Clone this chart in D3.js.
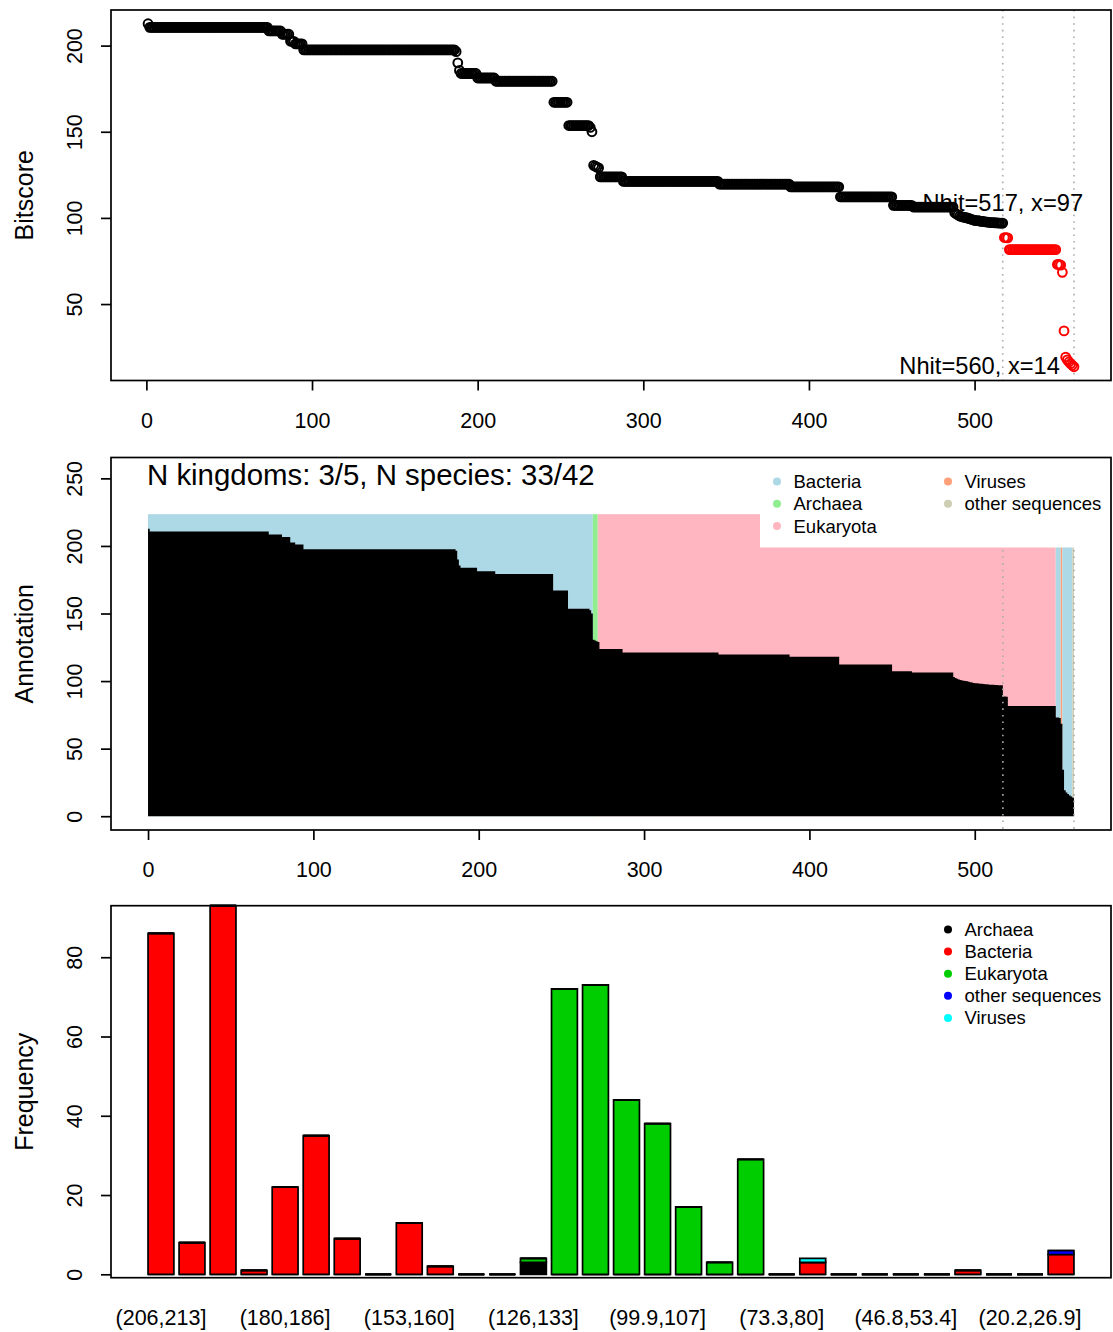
<!DOCTYPE html>
<html>
<head>
<meta charset="utf-8">
<script src="https://cdn.jsdelivr.net/npm/d3@7"></script>
<style>
  body { margin: 0; background: #fff; }
  svg { display: block; font-family: "Liberation Sans", Arial, Helvetica, sans-serif; }
</style>
</head>
<body>
<div id="chart"></div>
<script>
// hits sorted by bitscore, stored as runs (score, number of hits, kingdom)
const runScore = [212.7, 210.6, 208.5, 206.6, 202.5, 201, 197.5, 196.5, 190, 185.6, 183.8, 181.2,
  179.3, 167.1, 153.6, 152.5, 150,
  130.5, 130, 129.5,
  129, 123.8, 121.2, 119.6, 118, 112.2, 107.3, 106.3,
  103, 102.3, 101.7, 101.1, 100.8, 100.5, 100.3, 100.1, 99.8, 99.5, 99.2, 98.9, 98.6, 98.4, 98.2, 98,
  97.8, 97.6, 97.4, 97.3, 97.2, 97.1, 97,
  88.6, 88.4, 81.6,
  73, 72.6, 68.4, 34.4, 19.2, 17.6, 16.4, 15.4, 14.5, 13.6];
const runCount = [1, 72, 8, 5, 3, 5, 92, 1, 1, 1, 10, 11,
  35, 9, 13, 1, 1,
  1, 1, 1,
  1, 14, 58, 43, 30, 32, 12, 25,
  1, 1, 1, 1, 1, 1, 1, 1, 1, 1, 1, 1, 1, 2, 1, 2,
  1, 2, 1, 2, 1, 2, 3,
  2, 1, 29,
  2, 1, 1, 1, 1, 1, 1, 1, 1, 1];
const runKingdom = ["B", "B", "B", "B", "B", "B", "B", "B", "B", "B", "B", "B",
  "B", "B", "B", "B", "B",
  "A", "A", "A",
  "E", "E", "E", "E", "E", "E", "E", "E",
  "E", "E", "E", "E", "E", "E", "E", "E", "E", "E", "E", "E", "E", "E", "E", "E",
  "E", "E", "E", "E", "E", "E", "E",
  "E", "E", "E",
  "B", "B", "V", "B", "B", "B", "B", "B", "B", "O"];

const kingdomNames = { B: "Bacteria", A: "Archaea", E: "Eukaryota", V: "Viruses", O: "other sequences" };

// hit cutoffs marked with dotted lines
const cutHits = [517, 560];

// annotation panel
const annoTitle = "N kingdoms: 3/5, N species: 33/42";
const annoLegend = ["Bacteria", "Archaea", "Eukaryota", "Viruses", "other sequences"];
const annoColors = ["#ADD8E6", "#90EE90", "#FFB6C1", "#FFA07A", "#CDCDB4"];

// histogram of bitscores (30 bins, highest first)
const binLabels = ["(206,213]", "(199,206]", "(193,199]", "(186,193]", "(180,186]", "(173,180]",
  "(166,173]", "(160,166]", "(153,160]", "(146,153]", "(140,146]", "(133,140]", "(126,133]",
  "(120,126]", "(113,120]", "(107,113]", "(99.9,107]", "(93.2,99.9]", "(86.6,93.2]", "(80,86.6]",
  "(73.3,80]", "(66.7,73.3]", "(60,66.7]", "(53.4,60]", "(46.8,53.4]", "(40.1,46.8]",
  "(33.5,40.1]", "(26.9,33.5]", "(20.2,26.9]", "(13.4,20.2]"];
const countArchaea   = [0, 0, 0, 0, 0, 0, 0, 0, 0, 0, 0, 0, 3, 0, 0, 0, 0, 0, 0, 0, 0, 0, 0, 0, 0, 0, 0, 0, 0, 0];
const countBacteria  = [86, 8, 93, 1, 22, 35, 9, 0, 13, 2, 0, 0, 0, 0, 0, 0, 0, 0, 0, 0, 0, 3, 0, 0, 0, 0, 1, 0, 0, 5];
const countEukaryota = [0, 0, 0, 0, 0, 0, 0, 0, 0, 0, 0, 0, 1, 72, 73, 44, 38, 17, 3, 29, 0, 0, 0, 0, 0, 0, 0, 0, 0, 0];
const countOther     = [0, 0, 0, 0, 0, 0, 0, 0, 0, 0, 0, 0, 0, 0, 0, 0, 0, 0, 0, 0, 0, 0, 0, 0, 0, 0, 0, 0, 0, 1];
const countViruses   = [0, 0, 0, 0, 0, 0, 0, 0, 0, 0, 0, 0, 0, 0, 0, 0, 0, 0, 0, 0, 0, 1, 0, 0, 0, 0, 0, 0, 0, 0];
const histKeys = ["Archaea", "Bacteria", "Eukaryota", "other sequences", "Viruses"];
const histColors = ["#000000", "#FF0000", "#00CD00", "#0000FF", "#00FFFF"];

const W = 1113, H = 1332;
const lw = 1.7;
const tickFont = 21.5, labFont = 25, legFont = 18.5;
const left = 111, right = 1111;

const svg = d3.select("#chart").append("svg").attr("width", W).attr("height", H);

// expand runs into single hits
const hits = [];
runScore.forEach((s, k) => {
  for (let j = 0; j < runCount[k]; j++) {
    hits.push({ i: hits.length + 1, score: s, kingdom: kingdomNames[runKingdom[k]] });
  }
});
const n = hits.length;
const maxScore = d3.max(hits, d => d.score);

function yLabels(g, x) {
  g.select(".domain").remove();
  g.selectAll("line").attr("stroke-width", lw);
  g.selectAll("text")
    .attr("x", null).attr("dy", null)
    .attr("transform", `translate(${x},0) rotate(-90)`)
    .attr("text-anchor", "middle")
    .style("font-size", tickFont + "px")
    .attr("fill", "#000");
}
function xLabels(g) {
  g.select(".domain").remove();
  g.selectAll("line").attr("stroke-width", lw);
  g.selectAll("text")
    .attr("y", 47).attr("dy", null)
    .style("font-size", tickFont + "px")
    .attr("fill", "#000");
}
function axisTitle(text, cy) {
  svg.append("text")
    .attr("transform", `translate(33,${cy}) rotate(-90)`)
    .attr("text-anchor", "middle")
    .style("font-size", labFont + "px")
    .text(text);
}
function box(top, bottom, r) {
  svg.append("rect")
    .attr("x", left).attr("y", top)
    .attr("width", (r || right) - left).attr("height", bottom - top)
    .attr("fill", "none").attr("stroke", "#000").attr("stroke-width", lw);
}

// ---------- panel 1: bitscore per hit ----------
const t1 = 10, b1 = 380.5;
const ext = d3.extent(hits, d => d.score);
const padY = 0.04 * (ext[1] - ext[0]);
const x1 = d3.scaleLinear().domain([1 - 0.04 * (n - 1), n + 0.04 * (n - 1)]).range([left, right]);
const y1 = d3.scaleLinear().domain([ext[0] - padY, ext[1] + padY]).range([b1, t1]);

svg.append("g").selectAll("line").data(cutHits).join("line")
  .attr("x1", d => x1(d)).attr("x2", d => x1(d))
  .attr("y1", t1).attr("y2", b1)
  .attr("stroke", "#aaa").attr("stroke-width", 1.6).attr("stroke-dasharray", "1.6,5");

svg.append("g").selectAll("circle").data(hits).join("circle")
  .attr("cx", d => x1(d.i)).attr("cy", d => y1(d.score)).attr("r", 4.4)
  .attr("fill", "none")
  .attr("stroke", d => d.i <= cutHits[0] ? "#000" : "#FF0000")
  .attr("stroke-width", 2);

cutHits.forEach((c, k) => {
  const s = hits[c - 1].score;
  const t = svg.append("text")
    .style("font-size", "23.7px")
    .text(`Nhit=${c}, x=${Math.round(s)}`);
  if (k === 0) {
    t.attr("x", x1(c)).attr("y", y1(s) - 12.5).attr("text-anchor", "middle");
  } else {
    t.attr("x", x1(c) - 14).attr("y", y1(s) + 7.5).attr("text-anchor", "end");
  }
});

svg.append("g").attr("transform", `translate(0,${b1})`)
  .call(d3.axisBottom(x1).tickValues([0, 100, 200, 300, 400, 500]).tickSize(10).tickFormat(d3.format("d")))
  .call(xLabels);
svg.append("g").attr("transform", `translate(${left},0)`)
  .call(d3.axisLeft(y1).tickValues([50, 100, 150, 200]).tickSize(10))
  .call(g => yLabels(g, -29));
box(t1, b1);
axisTitle("Bitscore", (t1 + b1) / 2);

// ---------- panel 2: annotation ----------
const t2 = 457.5, b2 = 830;
const yTop2 = 1.2 * maxScore, bandTop = 223.5;
const x2 = d3.scaleLinear().domain([-0.04 * n, n * 1.04]).range([left, right]);
const y2 = d3.scaleLinear().domain([-0.04 * yTop2, 1.04 * yTop2]).range([b2, t2]);
const kColor = d3.scaleOrdinal().domain(annoLegend).range(annoColors);

// runs of same kingdom for the background band
const segs = [];
hits.forEach(h => {
  const last = segs[segs.length - 1];
  if (last && last.kingdom === h.kingdom) last.end = h.i;
  else segs.push({ kingdom: h.kingdom, start: h.i - 1, end: h.i });
});
svg.append("g").selectAll("rect").data(segs).join("rect")
  .attr("x", d => x2(d.start)).attr("width", d => x2(d.end) - x2(d.start))
  .attr("y", y2(bandTop)).attr("height", y2(0) - y2(bandTop))
  .attr("fill", d => kColor(d.kingdom));

const stepPts = hits.map(h => [h.i - 1, h.score]).concat([[n, hits[n - 1].score]]);
svg.append("path").datum(stepPts)
  .attr("d", d3.area().curve(d3.curveStepAfter).x(d => x2(d[0])).y0(y2(0)).y1(d => y2(d[1])))
  .attr("fill", "#000");

svg.append("g").selectAll("line").data(cutHits).join("line")
  .attr("x1", d => x2(d)).attr("x2", d => x2(d))
  .attr("y1", t2).attr("y2", b2)
  .attr("stroke", "#aaa").attr("stroke-width", 1.6).attr("stroke-dasharray", "1.6,5");

// legend with white background
svg.append("rect").attr("x", 760).attr("y", t2).attr("width", right - 760).attr("height", 547.5 - t2)
  .attr("fill", "#fff");
const leg2 = svg.append("g");
annoLegend.forEach((k, idx) => {
  const col = idx < 3 ? 0 : 1, row = idx < 3 ? idx : idx - 3;
  const cx = col === 0 ? 777 : 948, cy = 481.5 + row * 22.3;
  leg2.append("circle").attr("cx", cx).attr("cy", cy).attr("r", 4).attr("fill", kColor(k));
  leg2.append("text").attr("x", cx + 16.5).attr("y", cy).attr("dy", "0.35em")
    .style("font-size", legFont + "px").text(k);
});

svg.append("text").attr("x", 147).attr("y", 485).style("font-size", "29.4px").text(annoTitle);

svg.append("g").attr("transform", `translate(0,${b2})`)
  .call(d3.axisBottom(x2).tickValues([0, 100, 200, 300, 400, 500]).tickSize(10).tickFormat(d3.format("d")))
  .call(xLabels);
svg.append("g").attr("transform", `translate(${left},0)`)
  .call(d3.axisLeft(y2).tickValues([0, 50, 100, 150, 200, 250]).tickSize(10))
  .call(g => yLabels(g, -29));
box(t2, b2);
axisTitle("Annotation", (t2 + b2) / 2);

// ---------- panel 3: stacked histogram ----------
const t3 = 905.7, b3 = 1277.7, base3 = 1274.3;
const rows = binLabels.map((lab, k) => ({
  label: lab,
  "Archaea": countArchaea[k],
  "Bacteria": countBacteria[k],
  "Eukaryota": countEukaryota[k],
  "other sequences": countOther[k],
  "Viruses": countViruses[k]
}));
const series = d3.stack().keys(histKeys)(rows);
const nb = rows.length;
const x3 = d3.scaleLinear().domain([0.2 - 0.04 * (1.2 * nb - 0.2), 1.2 * nb + 0.04 * (1.2 * nb - 0.2)]).range([left, right]);
const y3 = d3.scaleLinear().domain([0, 93]).range([base3, t3]);
const hColor = d3.scaleOrdinal().domain(histKeys).range(histColors);

svg.append("g").selectAll("g").data(series).join("g")
  .attr("fill", d => hColor(d.key))
  .selectAll("path").data(d => d).join("path")
  .attr("d", (d, k) => {
    const xa = x3(0.2 + 1.2 * k), xb = x3(1.2 + 1.2 * k);
    return `M${xa},${y3(d[1])}H${xb}V${y3(d[0])}H${xa}Z`;
  })
  .attr("stroke", "#000").attr("stroke-width", lw).attr("stroke-linejoin", "miter");

svg.append("g").selectAll("text").data(rows.filter((d, k) => k % 4 === 0)).join("text")
  .attr("x", (d, k) => x3(0.7 + 1.2 * k * 4))
  .attr("y", b3 + 47)
  .attr("text-anchor", "middle")
  .style("font-size", tickFont + "px")
  .text(d => d.label);

svg.append("g").attr("transform", `translate(${left},0)`)
  .call(d3.axisLeft(y3).tickValues([0, 20, 40, 60, 80]).tickSize(10))
  .call(g => yLabels(g, -29));
box(t3, b3);
axisTitle("Frequency", (t3 + b3) / 2);

const leg3 = svg.append("g");
histKeys.forEach((k, idx) => {
  const cy = 929.5 + idx * 22.1;
  leg3.append("circle").attr("cx", 948).attr("cy", cy).attr("r", 4).attr("fill", hColor(k));
  leg3.append("text").attr("x", 964.5).attr("y", cy).attr("dy", "0.35em")
    .style("font-size", legFont + "px").text(k);
});
</script>
</body>
</html>
